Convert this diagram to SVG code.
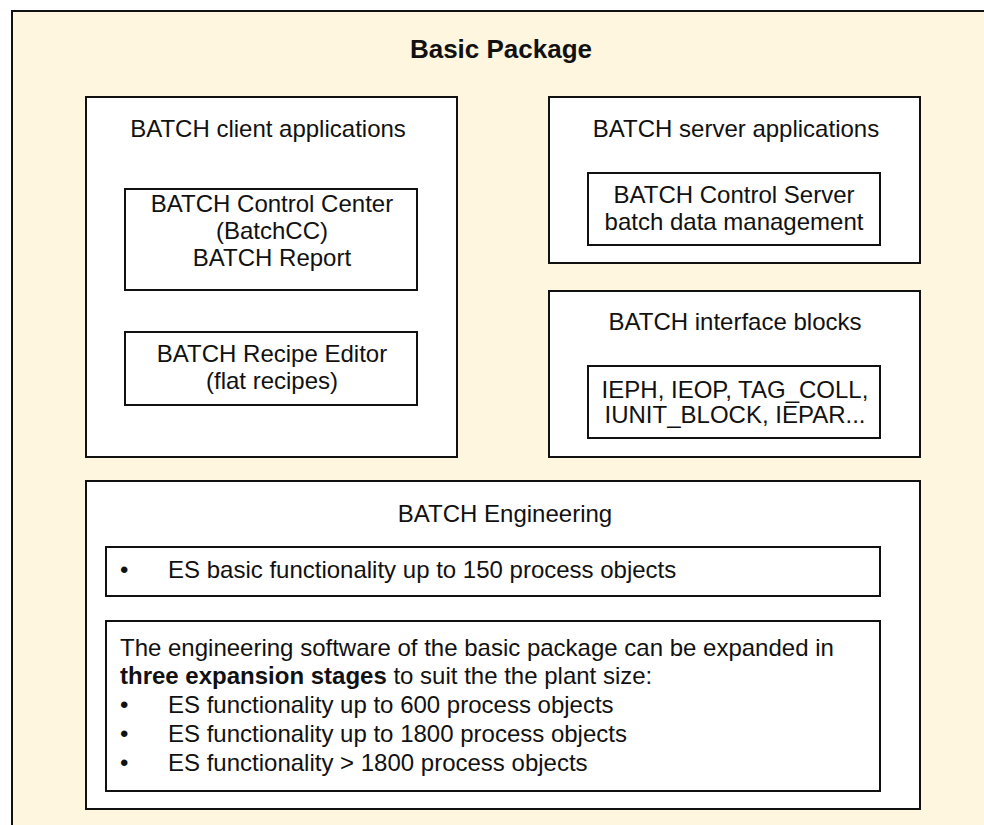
<svg xmlns="http://www.w3.org/2000/svg" width="984" height="825" viewBox="0 0 984 825">
<style>
  .bg { fill: #FEF6DF; stroke: #111; stroke-width: 2; }
  .box { fill: #FFFFFF; stroke: #111; stroke-width: 2; }
  text { font-family: "Liberation Sans", Arial, sans-serif; font-size: 24px; fill: #111; }
  .c { text-anchor: middle; }
  .title { font-size: 26px; font-weight: bold; }
  .b { font-weight: bold; }
</style>
<rect width="984" height="825" fill="#FFFFFF"/>
<g id="basic-package">
  <rect class="bg" x="12" y="11" width="990" height="830"/>
  <text class="title c" x="501" y="58">Basic Package</text>
</g>
<g id="client-apps">
  <rect class="box" x="86" y="97" width="371" height="360"/>
  <text class="c" x="268" y="137">BATCH client applications</text>
</g>
<g id="control-center">
  <rect class="box" x="125" y="189" width="292" height="101"/>
  <text class="c" x="272" y="212">BATCH Control Center</text>
  <text class="c" x="272" y="239">(BatchCC)</text>
  <text class="c" x="272" y="266">BATCH Report</text>
</g>
<g id="recipe-editor">
  <rect class="box" x="125" y="332" width="292" height="73"/>
  <text class="c" x="272" y="362">BATCH Recipe Editor</text>
  <text class="c" x="272" y="389">(flat recipes)</text>
</g>
<g id="server-apps">
  <rect class="box" x="549" y="97" width="371" height="166"/>
  <text class="c" x="736" y="137">BATCH server applications</text>
</g>
<g id="control-server">
  <rect class="box" x="588" y="173" width="292" height="72"/>
  <text class="c" x="734" y="203">BATCH Control Server</text>
  <text class="c" x="734" y="230">batch data management</text>
</g>
<g id="interface-blocks">
  <rect class="box" x="549" y="291" width="371" height="166"/>
  <text class="c" x="735" y="330">BATCH interface blocks</text>
</g>
<g id="interface-list">
  <rect class="box" x="588" y="366" width="292" height="72"/>
  <text class="c" x="735" y="398">IEPH, IEOP, TAG_COLL,</text>
  <text class="c" x="735" y="423">IUNIT_BLOCK, IEPAR...</text>
</g>
<g id="engineering">
  <rect class="box" x="86" y="481" width="834" height="328"/>
  <text class="c" x="505" y="522">BATCH Engineering</text>
</g>
<g id="es-basic">
  <rect class="box" x="106" y="547" width="774" height="49"/>
  <text x="120" y="578">•</text>
  <text x="168" y="578">ES basic functionality up to 150 process objects</text>
</g>
<g id="expansion">
  <rect class="box" x="106" y="621" width="774" height="170"/>
  <text x="120" y="656">The engineering software of the basic package can be expanded in</text>
  <text x="120" y="684"><tspan class="b">three expansion stages</tspan> to suit the the plant size:</text>
  <text x="120" y="713">•</text>
  <text x="168" y="713">ES functionality up to 600 process objects</text>
  <text x="120" y="742">•</text>
  <text x="168" y="742">ES functionality up to 1800 process objects</text>
  <text x="120" y="771">•</text>
  <text x="168" y="771">ES functionality &gt; 1800 process objects</text>
</g>
<g id="connectors"></g>
</svg>
